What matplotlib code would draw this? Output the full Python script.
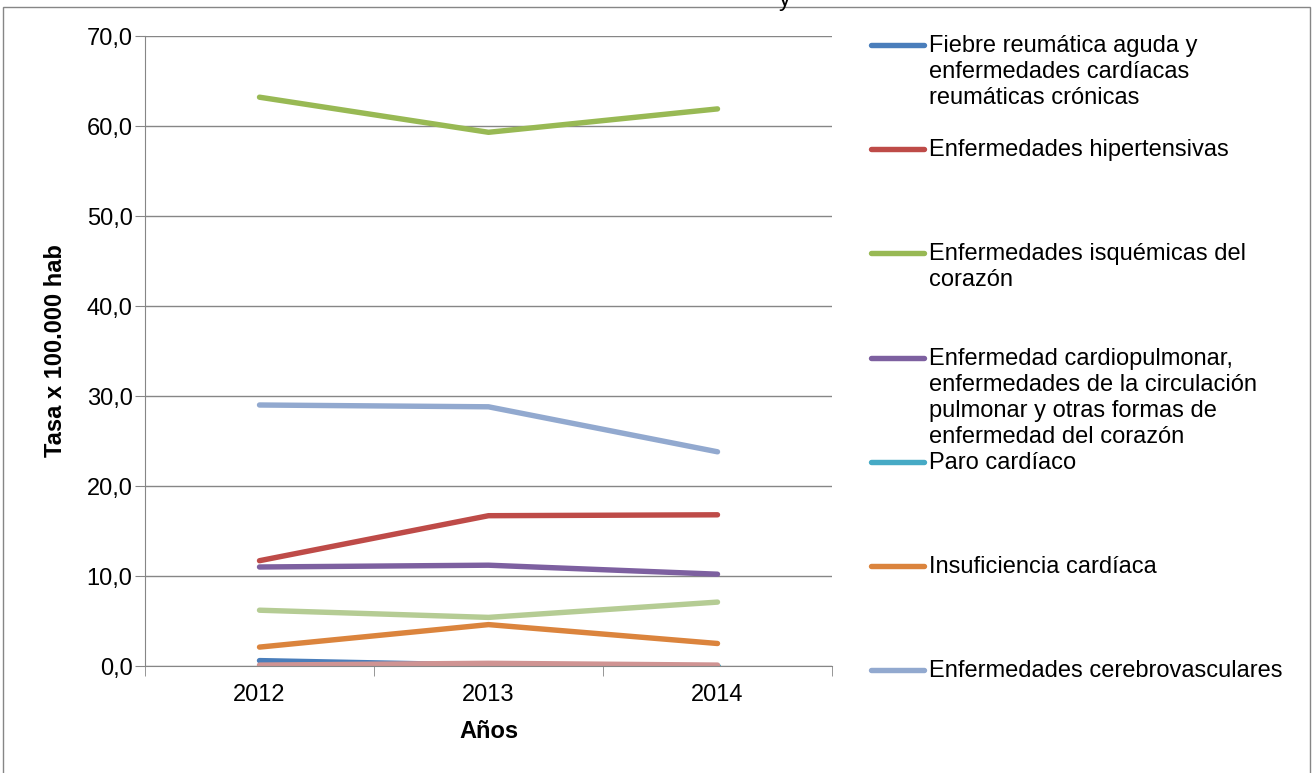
import matplotlib.pyplot as plt
from matplotlib.lines import Line2D
from matplotlib.patches import Rectangle

plt.rcParams['font.family'] = ['Liberation Sans', 'DejaVu Sans']

# Datos (tasa x 100.000 hab)
anios = ["2012", "2013", "2014"]
fiebre_reumatica = [0.6, 0.1, 0.0]
hipertensivas = [11.7, 16.7, 16.8]
isquemicas = [63.2, 59.3, 61.9]
cardiopulmonar = [11.0, 11.2, 10.2]
paro_cardiaco = [0.0, 0.0, 0.0]
insuficiencia = [2.1, 4.6, 2.5]
cerebrovasculares = [29.0, 28.8, 23.8]
serie_8 = [6.2, 5.4, 7.1]
serie_9 = [0.1, 0.3, 0.1]

series = [
    ("Fiebre reumática aguda y\nenfermedades cardíacas\nreumáticas crónicas", fiebre_reumatica, "#4A7EBB"),
    ("Enfermedades hipertensivas", hipertensivas, "#BE4B48"),
    ("Enfermedades isquémicas del\ncorazón", isquemicas, "#98B954"),
    ("Enfermedad cardiopulmonar,\nenfermedades de la circulación\npulmonar y otras formas de\nenfermedad del corazón", cardiopulmonar, "#7D60A0"),
    ("Paro cardíaco", paro_cardiaco, "#46AAC5"),
    ("Insuficiencia cardíaca", insuficiencia, "#DB843D"),
    ("Enfermedades cerebrovasculares", cerebrovasculares, "#92A9CF"),
    (None, serie_8, "#B5CC94"),
    (None, serie_9, "#D09493"),
]

FS = 17
W, H = 1316, 773
fig = plt.figure(figsize=(W / 100, H / 100), dpi=100)
ax = fig.add_axes([145 / W, 1 - 666 / H, (832 - 145) / W, (666 - 36) / H])

x = list(range(len(anios)))
for nombre, valores, color in series:
    ax.plot(x, valores, color=color, lw=3.9, solid_capstyle='round', solid_joinstyle='round')

ax.set_xlim(-0.5, len(anios) - 0.5)
ax.set_ylim(0, 70)
ax.set_yticks(range(0, 71, 10))
ax.set_yticklabels([f"{v:.1f}".replace(".", ",") for v in range(0, 71, 10)], fontsize=FS)
ax.set_xticks(x)
ax.set_xticklabels(anios, fontsize=FS)
ax.set_xticks([i - 0.5 for i in range(len(anios) + 1)], minor=True)
ax.tick_params(axis='x', which='major', length=0, pad=13)
ax.tick_params(axis='x', which='minor', length=7, color='#868686', direction='out')
ax.tick_params(axis='y', length=7, color='#868686', direction='out', pad=2)
ax.yaxis.grid(True, color='#868686', lw=1)
ax.set_axisbelow(True)
for s in ['top', 'right']:
    ax.spines[s].set_visible(False)
for s in ['left', 'bottom']:
    ax.spines[s].set_color('#868686')

ax.set_xlabel("Años", fontsize=FS, fontweight='bold', labelpad=10)
ax.set_ylabel("Tasa x 100.000 hab", fontsize=FS, fontweight='bold', labelpad=14)

# Leyenda manual (estilo Excel)
paso = 104.2
for i, (nombre, valores, color) in enumerate(series):
    if nombre is None:
        continue
    yc = 1 - (45 + i * paso) / H
    fig.add_artist(Line2D([871 / W, 924 / W], [yc, yc], transform=fig.transFigure,
                          color=color, lw=3.9, solid_capstyle='round'))
    fig.text(929 / W, yc + 10 / H, nombre, fontsize=FS, va='top', ha='left',
             linespacing=1.24)

# título recortado y borde
fig.text(785 / W, 1.0, "y", fontsize=FS, ha='center', va='center')
fig.add_artist(Rectangle((3 / W, -0.05), (1310 - 3) / W, 1.05 - 7 / H,
                         transform=fig.transFigure, fill=False, ec='#868686', lw=1))

fig.savefig("out.png", dpi=100)
